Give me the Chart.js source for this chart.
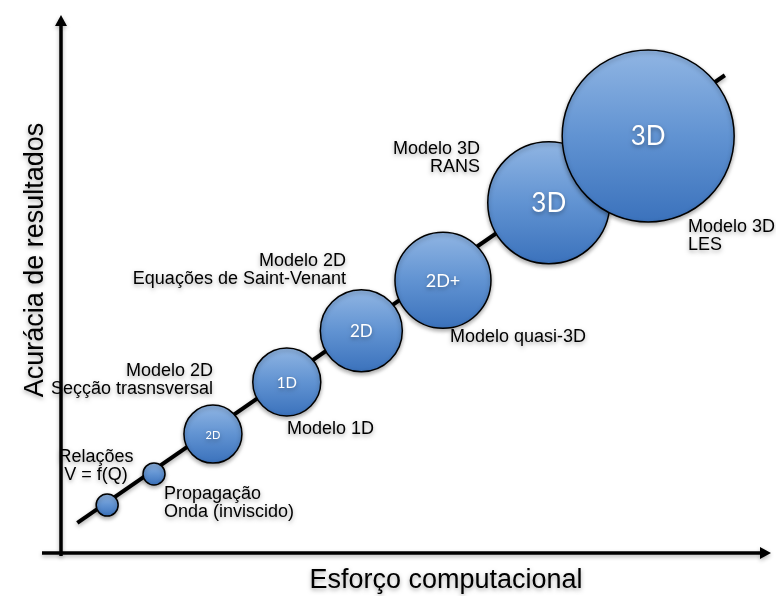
<!DOCTYPE html>
<html>
<head>
<meta charset="utf-8">
<script src="https://cdn.jsdelivr.net/npm/chart.js@4.4.1/dist/chart.umd.min.js"></script>
<style>
  html, body { margin: 0; padding: 0; background: #fff; }
  #wrap { width: 776px; height: 596px; }
</style>
</head>
<body>
<div id="wrap"><canvas id="chart" width="776" height="596"></canvas></div>
<script>
// conceptual scale: effort (x) and accuracy (y), 0-100
const models = ['Relações', 'Propagação', '2D seção', '1D', '2D', '2D+', '3D RANS', '3D LES'];
const bubbleText = ['', '', '2D', '1D', '2D', '2D+', '3D', '3D'];
const effort = [6.5, 13.1, 21.4, 31.8, 42.3, 53.8, 68.7, 82.7];
const accuracy = [8.9, 14.7, 22.1, 31.8, 41.3, 50.7, 65.1, 77.5];
const size = [11, 11, 29, 34, 41, 48, 61, 86];
const trendX = [2.3, 93.5];
const trendY = [5.6, 88.8];

const captions = [
    { lines: ['Relações', 'V = f(Q)'], x: 96, y: 462, align: 'center' },
    { lines: ['Propagação', 'Onda (inviscido)'], x: 164, y: 499, align: 'left' },
    { lines: ['Modelo 2D', 'Seçção trasnsversal'], x: 213, y: 376, align: 'right' },
    { lines: ['Modelo 1D'], x: 287, y: 434, align: 'left' },
    { lines: ['Modelo 2D', 'Equações de Saint-Venant'], x: 346, y: 266, align: 'right' },
    { lines: ['Modelo quasi-3D'], x: 450, y: 342, align: 'left' },
    { lines: ['Modelo 3D', 'RANS'], x: 480, y: 154, align: 'right' },
    { lines: ['Modelo 3D', 'LES'], x: 688, y: 232, align: 'left' }
];
const innerFont = [0, 0, 11, 15, 17, 18, 26, 26];

const bubbles = effort.map((x, i) => ({ x: x, y: accuracy[i], r: size[i] }));
const trend = trendX.map((x, i) => ({ x: x, y: trendY[i] }));

function bubbleFill(ctx) {
    const chart = ctx.chart;
    if (ctx.type !== 'data' || !chart.chartArea) return '#5b8fcf';
    const y = chart.scales.y.getPixelForValue(ctx.raw.y);
    const r = ctx.raw.r;
    const g = chart.ctx.createLinearGradient(0, y - r, 0, y + r);
    g.addColorStop(0, '#90b5e3');
    g.addColorStop(0.5, '#6193d2');
    g.addColorStop(1, '#3b72bc');
    return g;
}

const shadows = {
    id: 'shadows',
    beforeDatasetsDraw(chart) {
        const c = chart.ctx;
        c.save();
        c.shadowColor = 'rgba(0,0,0,0.35)';
        c.shadowBlur = 4;
        c.shadowOffsetY = 2;
    },
    afterDatasetsDraw(chart) {
        chart.ctx.restore();
    }
};

const decorations = {
    id: 'decorations',
    beforeDatasetsDraw(chart) {
        const c = chart.ctx;
        const a = chart.chartArea;
        c.save();
        c.shadowColor = 'rgba(0,0,0,0.3)';
        c.shadowBlur = 4;
        c.shadowOffsetY = 2;
        c.strokeStyle = '#000';
        c.fillStyle = '#000';
        c.lineWidth = 3.5;
        // y axis
        c.beginPath();
        c.moveTo(a.left, a.bottom + 3);
        c.lineTo(a.left, a.top + 10);
        c.stroke();
        c.beginPath();
        c.moveTo(a.left, a.top);
        c.lineTo(a.left - 6, a.top + 11);
        c.lineTo(a.left + 6, a.top + 11);
        c.closePath();
        c.fill();
        // x axis
        c.beginPath();
        c.moveTo(a.left - 19, a.bottom);
        c.lineTo(a.right - 10, a.bottom);
        c.stroke();
        c.beginPath();
        c.moveTo(a.right, a.bottom);
        c.lineTo(a.right - 11, a.bottom - 6);
        c.lineTo(a.right - 11, a.bottom + 6);
        c.closePath();
        c.fill();
        c.restore();
    },
    afterDatasetsDraw(chart) {
        const c = chart.ctx;
        c.save();
        // text inside bubbles
        const meta = chart.getDatasetMeta(1);
        c.fillStyle = '#fff';
        c.textAlign = 'center';
        c.textBaseline = 'middle';
        meta.data.forEach((el, i) => {
            if (!bubbleText[i]) return;
            c.font = innerFont[i] + 'px Lato';
            c.fillText(bubbleText[i], el.x, el.y + 1);
        });
        // captions
        c.fillStyle = '#000';
        c.textBaseline = 'alphabetic';
        c.font = '18px "Liberation Sans", Arial, sans-serif';
        captions.forEach(cap => {
            c.textAlign = cap.align;
            cap.lines.forEach((line, j) => c.fillText(line, cap.x, cap.y + j * 18));
        });
        // axis titles
        c.font = '27px "Liberation Sans", Arial, sans-serif';
        c.textAlign = 'center';
        c.textBaseline = 'middle';
        c.fillText('Esforço computacional', 446, 581);
        c.translate(36, 260);
        c.rotate(-Math.PI / 2);
        c.fillText('Acurácia de resultados', 0, 0);
        c.restore();
    }
};

new Chart(document.getElementById('chart').getContext('2d'), {
    type: 'bubble',
    data: {
        datasets: [{
            type: 'line',
            label: 'tendência',
            data: trend,
            borderColor: '#000',
            borderWidth: 4,
            pointRadius: 0,
            fill: false,
            order: 2,
            clip: false
        }, {
            label: 'modelos',
            data: bubbles,
            backgroundColor: bubbleFill,
            borderColor: '#000',
            borderWidth: 1.5,
            order: 1,
            clip: false
        }]
    },
    options: {
        responsive: false,
        animation: false,
        events: [],
        layout: { autoPadding: false, padding: { left: 61, right: 5, top: 15, bottom: 43 } },
        scales: {
            x: { type: 'linear', display: false, min: 0, max: 100 },
            y: { type: 'linear', display: false, min: 0, max: 100 }
        },
        plugins: {
            legend: { display: false },
            tooltip: { enabled: false }
        }
    },
    plugins: [decorations, shadows]
});
</script>
</body>
</html>
